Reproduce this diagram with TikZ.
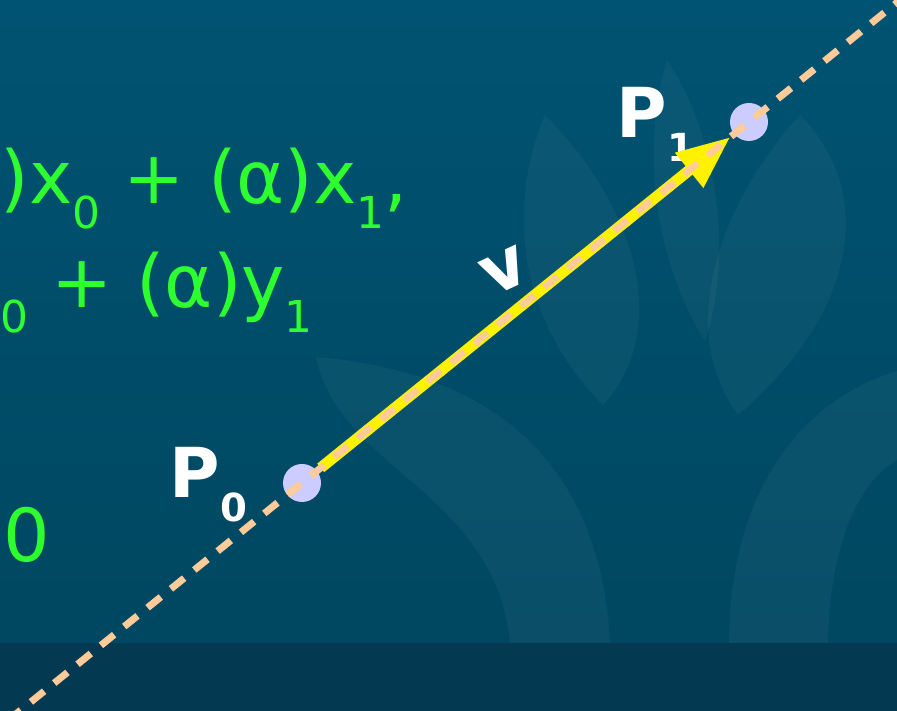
\documentclass[tikz,border=0pt]{standalone}
\usepackage{fontspec}
\setmainfont{DejaVu Sans}
\usepackage{xcolor}
\definecolor{bgtop}{HTML}{005372}
\definecolor{bgbot}{HTML}{00465F}
\definecolor{bgband}{HTML}{033A52}
\definecolor{eqgreen}{HTML}{2EFF2E}
\definecolor{ptlav}{HTML}{CCCCFF}
\definecolor{peach}{HTML}{FFCC99}
\usepackage{tikz}
\usetikzlibrary{arrows.meta,calc}

\newcommand\gsub[1]{\raisebox{-0.25cm}{\fontsize{12.5}{13}\selectfont #1}}
\newcommand\psub[1]{\raisebox{-0.24cm}{\fontsize{11}{12}\selectfont #1}}

\begin{document}
\begin{tikzpicture}[>=Latex,
    leaf/.style={fill=white,fill opacity=0.04,draw=none},
    eq/.style={inner sep=0pt,anchor=base west,text=eqgreen,font=\fontsize{20.8}{24}\selectfont},
    lab/.style={inner sep=0pt,text=white,font=\fontsize{19.6}{22}\selectfont\bfseries},
    pt/.style={circle,fill=ptlav,minimum size=0.38cm,inner sep=0pt,outer sep=0.05cm},
    vec/.style={-{Triangle[length=0.53cm,width=0.42cm]},yellow,line width=0.11cm},
    guide/.style={peach,line width=0.07cm,dash pattern=on 0.17cm off 0.13cm,dash phase=0.05cm}]
    \useasboundingbox (0,0) rectangle (8.97,7.11);
    \clip (0,0) rectangle (8.97,7.11);
    % background and faint leaves
    \shade[top color=bgtop,bottom color=bgbot] (0,0) rectangle (8.97,7.11);
    \fill[bgband] (0,0) rectangle (8.97,0.68);
    \fill[leaf] (3.16,3.54) .. controls (4.80,3.40) and (6.00,2.60) .. (6.10,0.68)
                -- (5.10,0.68) .. controls (4.95,2.20) and (3.40,2.40) .. cycle;
    \fill[leaf] (8.97,3.40) .. controls (8.00,3.10) and (7.30,2.20) .. (7.29,0.68)
                -- (8.28,0.68) .. controls (8.30,1.70) and (8.60,2.30) .. (8.97,2.51) -- cycle;
    \fill[leaf] (5.45,5.96) .. controls (5.05,5.00) and (5.20,3.90) .. (6.03,3.06)
                .. controls (6.70,3.80) and (6.40,5.00) .. cycle;
    \fill[leaf] (6.67,6.51) .. controls (6.40,5.60) and (6.55,4.50) .. (7.05,3.70)
                .. controls (7.35,4.60) and (7.15,5.80) .. cycle;
    \fill[leaf] (8.00,5.96) .. controls (8.75,5.20) and (8.60,4.00) .. (7.38,2.96)
                .. controls (6.70,3.90) and (7.30,5.20) .. cycle;
    % equations (cut at the left edge)
    \node[eq] (eqx) at (0,5.07) {)x\gsub{0} + (α)x\gsub{1},};
    \node[eq] (eqy) at (0,4.03) {\gsub{0} + (α)y\gsub{1}};
    \node[eq] (eqa) at (0.03,1.49) {0};
    % points and labels
    \node[lab,anchor=base west] (lp0) at (1.69,2.13) {P\psub{0}};
    \node[lab,anchor=base west] (lp1) at (6.16,5.73) {P\psub{1}};
    \node[lab,rotate=25] (lv) at (5.05,4.40) {v};
    \node[pt] (p0) at (3.02,2.28) {};
    \node[pt] (p1) at (7.49,5.89) {};
    \draw[vec] (p0) -- (p1);
    \coordinate (lo) at ($(p0)!-0.65!(p1)$);
    \coordinate (hi) at ($(p0)!1.34!(p1)$);
    \draw[guide] (lo) -- (hi);
\end{tikzpicture}
\end{document}
